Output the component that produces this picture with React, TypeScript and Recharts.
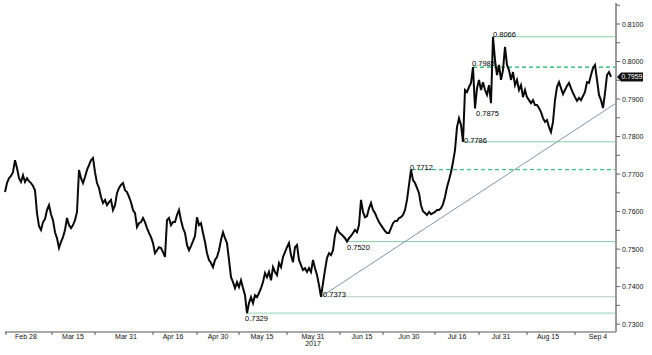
import React from "react";
import {
  LineChart,
  Line,
  XAxis,
  YAxis,
  ReferenceLine,
  ReferenceDot,
} from "recharts";

// half-day closes, Feb 21 - Sep 7 2017
const closes: number[] = [
  0.7652, 0.7676, 0.7689, 0.7695, 0.7705, 0.7737, 0.7716, 0.7689, 0.7679, 0.7697,
  0.7679, 0.7689, 0.7681, 0.7676, 0.7668, 0.7657, 0.7596, 0.7561, 0.7551, 0.7572,
  0.758, 0.7604, 0.7617, 0.7593, 0.7577, 0.7545, 0.7529, 0.7503, 0.7519, 0.7532,
  0.7551, 0.7583, 0.7564, 0.7556, 0.7564, 0.7577, 0.7599, 0.7711, 0.7689, 0.7676,
  0.7692, 0.7711, 0.7724, 0.7737, 0.7743, 0.7705, 0.7676, 0.7663, 0.7639, 0.7623,
  0.7631, 0.7617, 0.7625, 0.7631, 0.7604, 0.7617, 0.7649, 0.7663, 0.7671, 0.7676,
  0.7657, 0.7652, 0.7639, 0.7625, 0.7604, 0.7596, 0.7559, 0.7569, 0.7572, 0.7583,
  0.7572, 0.7556, 0.7543, 0.7532, 0.7516, 0.7489, 0.7497, 0.7505, 0.7503, 0.7492,
  0.7479, 0.7577, 0.7583, 0.7564, 0.7572, 0.7572, 0.7591, 0.7604, 0.7577, 0.7556,
  0.7543, 0.7511, 0.7497, 0.7508, 0.7521, 0.7535, 0.7585, 0.7564, 0.7569, 0.7543,
  0.7519, 0.7489, 0.7471, 0.7463, 0.7452, 0.7471, 0.7479, 0.7497, 0.7524, 0.7545,
  0.7529, 0.7516, 0.7471, 0.7425, 0.7412, 0.7396, 0.7412, 0.7399, 0.7417, 0.7396,
  0.7377, 0.7329, 0.7356, 0.7372, 0.7356, 0.7377, 0.7372, 0.7383, 0.7396, 0.7412,
  0.7436, 0.7425, 0.7439, 0.7417, 0.7452, 0.7439, 0.7431, 0.7463, 0.7452, 0.7479,
  0.7492, 0.7505, 0.7516, 0.7484, 0.7465, 0.7505, 0.7511, 0.7471, 0.7457, 0.7444,
  0.7449, 0.7439, 0.7449, 0.7439, 0.7471, 0.7449, 0.7431, 0.7404, 0.7373, 0.7409,
  0.7444, 0.7476, 0.7489, 0.7484, 0.7497, 0.7537, 0.7556, 0.7545, 0.754, 0.7535,
  0.7529, 0.752, 0.7529, 0.7535, 0.7543, 0.7551, 0.7545, 0.7564, 0.7631, 0.7599,
  0.7585, 0.7588, 0.7609, 0.7623, 0.7604, 0.7596, 0.7583, 0.7572, 0.7564, 0.7556,
  0.7548, 0.7543, 0.7543, 0.7556, 0.7569, 0.7575, 0.7575, 0.7583, 0.7585, 0.7591,
  0.7604, 0.7631, 0.7671, 0.7712, 0.7684, 0.7676, 0.7663, 0.7649, 0.7617, 0.7601,
  0.7596, 0.7591, 0.7599, 0.7593, 0.7596, 0.7599, 0.7604, 0.7604, 0.7609, 0.762,
  0.7639, 0.7665, 0.7684, 0.7705, 0.7732, 0.7764, 0.7825, 0.7849, 0.7831, 0.7786,
  0.7924, 0.7919, 0.7932, 0.7943, 0.7985, 0.7875, 0.7929, 0.7951, 0.7924, 0.7945,
  0.7924, 0.7911, 0.7937, 0.7889, 0.8066, 0.8004, 0.7964, 0.7991, 0.7951, 0.7977,
  0.8039, 0.7991, 0.7977, 0.7951, 0.7972, 0.7937, 0.7951, 0.7924, 0.7937, 0.7905,
  0.7924, 0.7905, 0.7897, 0.7889, 0.7897, 0.7884, 0.7884, 0.7876, 0.7865, 0.7849,
  0.7839, 0.7844, 0.7825, 0.7812, 0.7839, 0.7897, 0.7932, 0.7945, 0.7929, 0.7913,
  0.7924, 0.7935, 0.7943, 0.7929, 0.7916, 0.7905, 0.7895, 0.7903, 0.7897, 0.7908,
  0.7919, 0.7945, 0.7943, 0.7964, 0.7983, 0.7991, 0.7951, 0.7911, 0.7897, 0.7876,
  0.7916, 0.7964, 0.7972, 0.7959,
];

const xTickLabels = [
  "Feb 28", "Mar 15", "Mar 31", "Apr 16", "Apr 30", "May 15", "May 31",
  "Jun 15", "Jun 30", "Jul 16", "Jul 31", "Aug 15", "Sep 4",
];
const xLabelAt = [10.5, 34, 60.5, 84, 106.5, 128.5, 154, 178.5, 202, 226, 248, 271.5, 296.5];
const xDividers = [0.5, 23.5, 45, 74, 96, 117, 141, 167.5, 189, 215, 237, 261, 285];
const yearLabel = "2017";
const yearUnder = "May 31";

const yTicks = [
  0.73, 0.735, 0.74, 0.745, 0.75, 0.755, 0.76, 0.765, 0.77,
  0.775, 0.78, 0.785, 0.79, 0.795, 0.8, 0.805, 0.81, 0.815,
];

const levels = [0.8066, 0.7985, 0.7786, 0.7712, 0.752, 0.7373, 0.7329];
const swingLabels = [0.8066, 0.7985, 0.7875, 0.7786, 0.7712, 0.752, 0.7373, 0.7329];
const trendFrom = 0.7373;
const trendTo = 0.7889;

const X_END = 305.5;
const FONT = "'Liberation Sans', Arial, sans-serif";

const levelStyle: Record<string, { stroke: string; dash?: string; width?: number }> = {
  "0.8066": { stroke: "#86ccae" },
  "0.7985": { stroke: "#14b060", dash: "4 3", width: 1.3 },
  "0.7786": { stroke: "#86ccae" },
  "0.7712": { stroke: "#3cc682", dash: "4 3", width: 1.3 },
  "0.7520": { stroke: "#86ccae" },
  "0.7373": { stroke: "#b6cdc4" },
  "0.7329": { stroke: "#c4e6d8", width: 2 },
};

const labelOffset: Record<string, [number, number]> = {
  "0.8066": [0, 0],
  "0.7985": [-1, -1],
  "0.7875": [1, 8],
  "0.7786": [1, 1],
  "0.7712": [-1, 0],
  "0.7520": [0, 8],
  "0.7373": [2, 0],
  "0.7329": [-2, 8],
};

const data = closes.map((price, t) => ({ t, price }));

function XTick(props: any) {
  const { x, y, payload } = props;
  const v = payload.value;
  if (xDividers.includes(v)) {
    return <line x1={x} y1={y} x2={x} y2={y + 3} stroke="#555" />;
  }
  const idx = xLabelAt.indexOf(v);
  if (idx < 0) return null;
  const label = xTickLabels[idx];
  return (
    <g>
      <text x={x} y={y + 7} textAnchor="middle" fontSize={7} fontFamily={FONT} fill="#111">
        {label}
      </text>
      {label === yearUnder && (
        <text x={x} y={y + 14} textAnchor="middle" fontSize={7} fontFamily={FONT} fill="#111">
          {yearLabel}
        </text>
      )}
    </g>
  );
}

function YTick(props: any) {
  const { x, y, payload } = props;
  const v: number = payload.value;
  const major = Math.abs(v * 100 - Math.round(v * 100)) < 1e-6;
  return (
    <g>
      <line x1={x} y1={y} x2={x + 4} y2={y} stroke="#666" />
      {major && (
        <text x={x + 6} y={y + 2.5} fontSize={7} fontFamily={FONT} fill="#111">
          {v.toFixed(4)}
        </text>
      )}
    </g>
  );
}

export default function App() {
  const last = closes[closes.length - 1];
  const trendStart = closes.indexOf(trendFrom);

  return (
    <div style={{ position: "absolute", left: 0, top: 0, background: "#fff" }}>
      <LineChart
        width={652}
        height={355}
        data={data}
        margin={{ top: 3, right: 0, bottom: 0, left: 5 }}
      >
        <XAxis
          dataKey="t"
          type="number"
          domain={[0, X_END]}
          ticks={[...xDividers, ...xLabelAt]}
          interval={0}
          tickSize={0}
          tickMargin={0}
          tickLine={false}
          axisLine={{ stroke: "#555" }}
          height={23}
          tick={<XTick />}
        />
        <YAxis
          orientation="right"
          type="number"
          domain={[0.7279, 0.8156]}
          ticks={yTicks}
          interval={0}
          tickSize={0}
          tickMargin={0}
          tickLine={false}
          axisLine={{ stroke: "#9b9b9b", strokeWidth: 2 }}
          width={36}
          tick={<YTick />}
        />

        {levels.map((lv) => {
          const key = lv.toFixed(4);
          const st = levelStyle[key];
          return (
            <ReferenceLine
              key={key}
              segment={[
                { x: closes.indexOf(lv), y: lv },
                { x: X_END, y: lv },
              ]}
              stroke={st.stroke}
              strokeWidth={st.width ?? 1}
              strokeDasharray={st.dash}
              ifOverflow="visible"
            />
          );
        })}

        <ReferenceLine
          segment={[
            { x: trendStart, y: trendFrom },
            { x: X_END, y: trendTo },
          ]}
          stroke="#7d98ad"
          strokeWidth={1}
          ifOverflow="visible"
        />

        <Line
          type="linear"
          dataKey="price"
          stroke="#0a0a0a"
          strokeWidth={2}
          dot={false}
          activeDot={false}
          isAnimationActive={false}
        />

        {swingLabels.map((lv) => {
          const key = lv.toFixed(4);
          const [dx, dy] = labelOffset[key];
          return (
            <ReferenceDot
              key={"lbl" + key}
              x={closes.indexOf(lv)}
              y={lv}
              r={0}
              ifOverflow="visible"
              shape={(p: any) => (
                <text
                  x={p.cx + dx}
                  y={p.cy + dy}
                  fontSize={7.5}
                  fontFamily={FONT}
                  fill="#000"
                >
                  {key}
                </text>
              )}
            />
          );
        })}

        <ReferenceDot
          x={X_END}
          y={last}
          r={0}
          ifOverflow="visible"
          shape={(p: any) => (
            <g>
              <polygon
                points={`${p.cx + 1},${p.cy} ${p.cx + 5},${p.cy - 4.5} ${p.cx + 27},${p.cy - 4.5} ${p.cx + 27},${p.cy + 4.5} ${p.cx + 5},${p.cy + 4.5}`}
                fill="#111"
              />
              <text x={p.cx + 5.5} y={p.cy + 2.5} fontSize={6.8} fontFamily={FONT} fill="#fff">
                {last.toFixed(4)}
              </text>
            </g>
          )}
        />
      </LineChart>
    </div>
  );
}
